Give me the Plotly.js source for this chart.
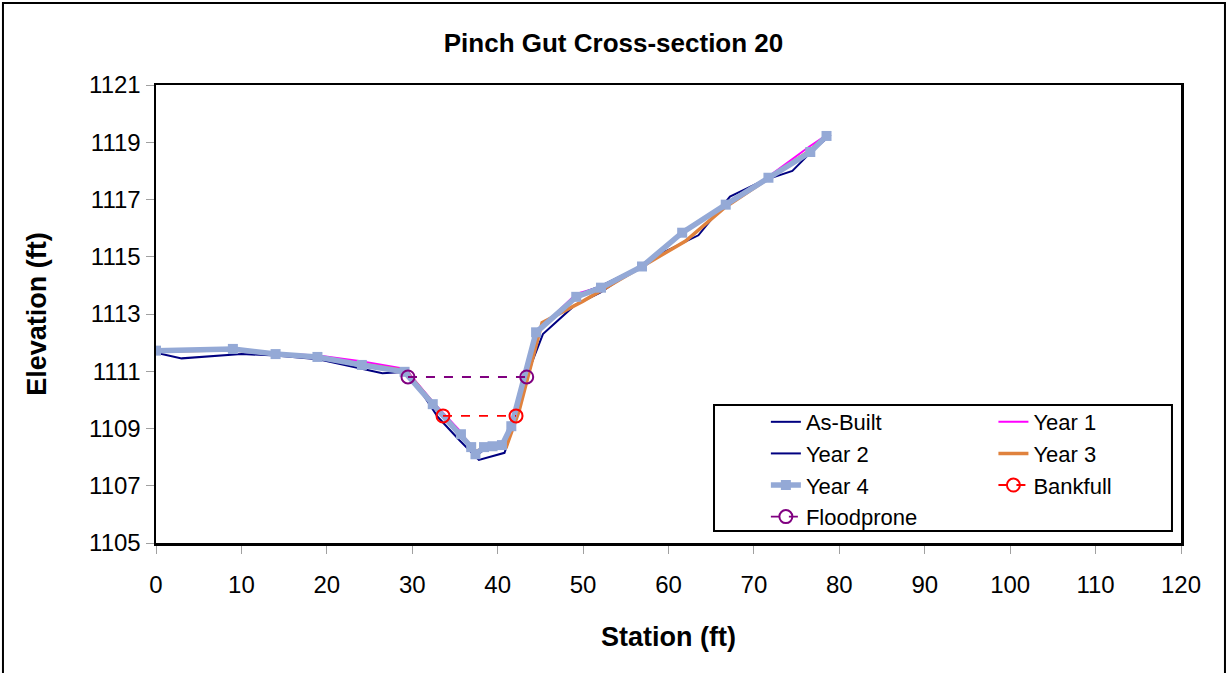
<!DOCTYPE html>
<html>
<head>
<meta charset="utf-8">
<script src="https://cdn.plot.ly/plotly-3.0.1.min.js"></script>
<style>html,body{margin:0;padding:0;background:#fff}#chart{width:1227px;height:673px}</style>
</head>
<body>
<div id="chart"></div>
<script>
// ---- data ----
const asBuiltX = [0, 3, 10, 14, 19, 23, 26.5, 29.5, 33, 35.5, 37.8, 40.8, 42.2, 44, 45.3, 49, 52, 55, 58, 63.5, 67.2, 71, 74.5, 77, 79];
const asBuiltY = [1111.65, 1111.45, 1111.6, 1111.55, 1111.42, 1111.15, 1110.93, 1110.98, 1109.4, 1108.6, 1107.9, 1108.15, 1109.4, 1111.3, 1112.3, 1113.3, 1113.75, 1114.35, 1114.95, 1115.75, 1117.1, 1117.65, 1118.0, 1118.75, 1119.25];

const year1X = [0, 9, 14, 19, 24, 29.2, 32.5, 35.8, 37.4, 38.5, 40.5, 41.7, 44.6, 49.2, 52.1, 57, 61.6, 66.7, 71.7, 76.5, 78.5];
const year1Y = [1111.72, 1111.8, 1111.62, 1111.55, 1111.35, 1111.08, 1109.9, 1108.85, 1108.1, 1108.35, 1108.4, 1109.1, 1112.4, 1113.7, 1113.95, 1114.7, 1115.85, 1116.85, 1117.8, 1118.85, 1119.25];

const year2X = [0, 9, 14, 19, 24, 29.3, 32.5, 35.8, 37.5, 38.6, 40.5, 41.7, 44.6, 49.3, 52.2, 57, 61.7, 66.8, 71.8, 76.7, 78.6];
const year2Y = [1111.7, 1111.75, 1111.58, 1111.48, 1111.2, 1110.98, 1109.8, 1108.7, 1108.05, 1108.3, 1108.35, 1109.1, 1112.35, 1113.65, 1114.0, 1114.7, 1115.85, 1116.85, 1117.75, 1118.65, 1119.2];

const year3X = [0, 9, 14, 19, 24, 29.2, 32.5, 35.8, 37.4, 38.5, 41.0, 42.5, 45.2, 50, 56, 62, 66.5, 71.7, 76.5, 78.5];
const year3Y = [1111.7, 1111.75, 1111.6, 1111.48, 1111.25, 1111.02, 1109.85, 1108.75, 1108.2, 1108.3, 1108.35, 1109.6, 1112.7, 1113.45, 1114.5, 1115.55, 1116.7, 1117.75, 1118.7, 1119.22];

const year4X = [0, 9.0, 14.0, 18.9, 24.1, 29.1, 32.4, 35.7, 36.9, 37.4, 38.4, 39.4, 40.5, 41.6, 44.5, 49.2, 52.1, 56.9, 61.6, 66.7, 71.7, 76.6, 78.5];
const year4Y = [1111.72, 1111.78, 1111.6, 1111.5, 1111.22, 1110.98, 1109.85, 1108.8, 1108.35, 1108.1, 1108.35, 1108.38, 1108.42, 1109.08, 1112.36, 1113.6, 1113.92, 1114.66, 1115.84, 1116.82, 1117.76, 1118.66, 1119.22];

const bankfullX = [33.6, 42.15];
const bankfullY = [1109.44, 1109.44];
const floodproneX = [29.5, 43.4];
const floodproneY = [1110.8, 1110.8];

const xTicks = [0, 10, 20, 30, 40, 50, 60, 70, 80, 90, 100, 110, 120];
const yTicks = [1105, 1107, 1109, 1111, 1113, 1115, 1117, 1119, 1121];

const FONT = 'Arial, "Liberation Sans", sans-serif';

const traces = [
  {name: 'As-Built', x: asBuiltX, y: asBuiltY, mode: 'lines', line: {color: '#000080', width: 2}, legend: 'legend', legendgroup: 'a', legendrank: 1},
  {name: 'Year 1', x: year1X, y: year1Y, mode: 'lines', line: {color: '#FF00FF', width: 2}, legend: 'legend2', legendgroup: 'b', legendrank: 1},
  {name: 'Year 2', x: year2X, y: year2Y, mode: 'lines', line: {color: '#000080', width: 2}, legend: 'legend', legendgroup: 'c', legendrank: 2},
  {name: 'Year 3', x: year3X, y: year3Y, mode: 'lines', line: {color: '#E0823D', width: 3.5}, legend: 'legend2', legendgroup: 'd', legendrank: 2},
  {name: 'Year 4', x: year4X, y: year4Y, mode: 'lines+markers', line: {color: '#94A9D6', width: 5.5}, marker: {symbol: 'square', size: 10, color: '#94A9D6'}, legend: 'legend', legendgroup: 'e', legendrank: 3},
  {name: 'Bankfull', x: bankfullX, y: bankfullY, mode: 'lines+markers', line: {color: '#FF0000', width: 1.8, dash: 'dash'}, marker: {symbol: 'circle-open', size: 13, color: '#FF0000', line: {width: 2}}, legend: 'legend2', legendgroup: 'f', legendrank: 3},
  {name: 'Floodprone', x: floodproneX, y: floodproneY, mode: 'lines+markers', line: {color: '#800080', width: 1.8, dash: 'dash'}, marker: {symbol: 'circle-open', size: 13, color: '#800080', line: {width: 2}}, legend: 'legend', legendgroup: 'g', legendrank: 4}
];

const legendCommon = {
  orientation: 'v', bgcolor: 'rgba(0,0,0,0)', borderwidth: 0,
  font: {family: FONT, size: 22, color: '#000'}, tracegroupgap: 0,
  xanchor: 'left', yanchor: 'top', traceorder: 'normal'
};

const layout = {
  width: 1227, height: 673,
  paper_bgcolor: '#fff', plot_bgcolor: '#fff',
  margin: {l: 156, r: 46, t: 85, b: 130},
  title: {text: '<b>Pinch Gut Cross-section 20</b>', x: 0.5, xref: 'container', y: 0.936, yref: 'container', yanchor: 'middle', font: {family: FONT, size: 26, color: '#000'}},
  showlegend: true,
  legend: Object.assign({}, legendCommon, {x: 0.595, y: 0.31}),
  legend2: Object.assign({}, legendCommon, {x: 0.817, y: 0.31}),
  xaxis: {
    range: [0, 120], tickvals: xTicks, ticktext: xTicks.map(String),
    showgrid: false, zeroline: false, showline: true, linecolor: '#000', linewidth: 2.5, mirror: true,
    ticks: 'outside', ticklen: 8, tickcolor: '#a0a0a0', tickwidth: 1, ticklabelstandoff: 11,
    tickfont: {family: FONT, size: 24, color: '#000'},
    title: {text: '<b>Station (ft)</b>', font: {family: FONT, size: 27, color: '#000'}, standoff: 30}
  },
  yaxis: {
    range: [1105, 1121], tickvals: yTicks, ticktext: yTicks.map(String),
    showgrid: false, zeroline: false, showline: true, linecolor: '#000', linewidth: 2.5, mirror: true,
    ticks: 'outside', ticklen: 8, tickcolor: '#a0a0a0', tickwidth: 1,
    tickfont: {family: FONT, size: 24, color: '#000'},
    title: {text: '<b>Elevation (ft)</b>', font: {family: FONT, size: 27, color: '#000'}, standoff: 35}
  },
  shapes: [
    {type: 'rect', xref: 'paper', yref: 'paper', x0: 0.5444, x1: 0.9912, y0: 0.0262, y1: 0.3013, line: {color: '#000', width: 2}, fillcolor: 'rgba(0,0,0,0)', layer: 'below'},
    {type: 'rect', xref: 'paper', yref: 'paper', x0: -0.1493, x1: 1.0429, y0: -0.33, y1: 1.179, line: {color: '#000', width: 2}, fillcolor: 'rgba(0,0,0,0)', layer: 'below'}
  ]
};

Plotly.newPlot('chart', traces, layout, {displayModeBar: false, staticPlot: true});
</script>
</body>
</html>
